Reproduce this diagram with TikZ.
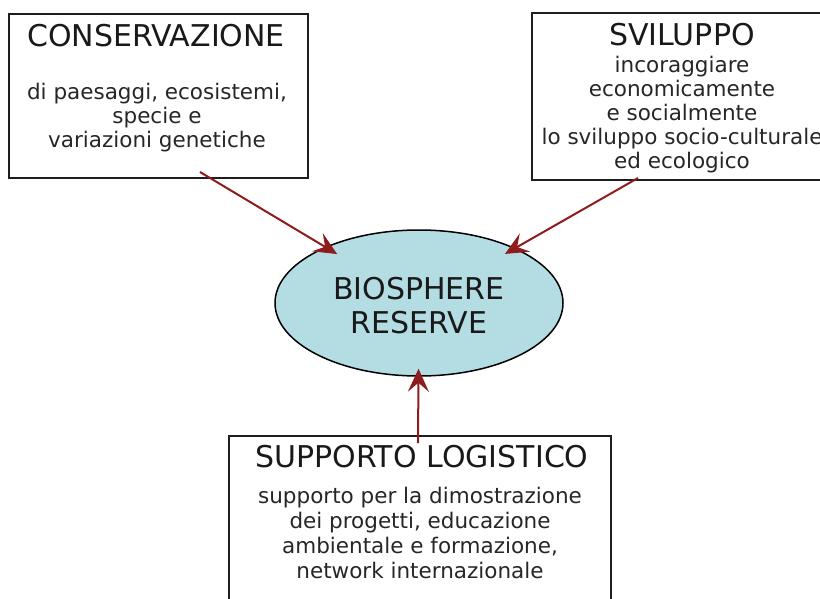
\documentclass[tikz,border=0pt]{standalone}
\usepackage{fontspec}
\setmainfont{DejaVu Sans}
\usetikzlibrary{arrows.meta,shapes.geometric}
\definecolor{arrowred}{HTML}{8E1C1C}
\definecolor{ellfill}{HTML}{B3DCE3}
\definecolor{boxline}{HTML}{1E1E1E}
\begin{document}
\begin{tikzpicture}[x=1pt,y=-1pt,
  box/.style={draw=boxline,line width=2pt,rectangle,inner sep=0pt,anchor=north west},
  title/.style={font=\fontsize{30}{34}\selectfont,inner sep=0pt,anchor=base,text=black!90},
  body/.style={font=\fontsize{21.5}{24}\selectfont,inner sep=0pt,anchor=base,align=center,text=black!85},
  link/.style={draw=arrowred,line width=2pt,-{Stealth[length=23pt,width=21pt,inset=9pt]}}]
\useasboundingbox (0,0) rectangle (820,598);
\clip (0,0) rectangle (820,598);
% boxes
\node[box,minimum width=299pt,minimum height=164pt] (box1) at (8,13) {};
\node[box,minimum width=303pt,minimum height=167pt] (box2) at (531,12) {};
\node[box,minimum width=382pt,minimum height=185pt] (box3) at (228,435) {};
% ellipse
\node[ellipse,draw=black,line width=1.5pt,fill=ellfill,minimum width=288pt,minimum height=146pt,inner sep=0pt] (ell) at (419,303) {};
\node[font=\fontsize{30}{34}\selectfont,align=center,inner sep=0pt,text=black!90] (elltext) at (419,306) {BIOSPHERE\\RESERVE};
% texts (base anchor = baseline of last line)
\node[title] (t1) at (156,46) {CONSERVAZIONE};
\node[body] (b1) at (157,147) {di paesaggi, ecosistemi,\\specie e\\variazioni genetiche};
\node[title] (t2) at (682,45) {SVILUPPO};
\node[body] (b2) at (682,168) {incoraggiare\\economicamente\\e socialmente\\lo sviluppo socio-culturale\\ed ecologico};
\node[title] (t3) at (422,467) {SUPPORTO LOGISTICO};
\node[body,font=\fontsize{21.5}{25}\selectfont] (b3) at (420,578) {supporto per la dimostrazione\\dei progetti, educazione\\ambientale e formazione,\\network internazionale};
% arrows
\coordinate (s1) at (200,172);
\coordinate (s2) at (638,178);
\coordinate (s3) at (418,443);
\draw[link,shorten >=-14pt] (s1) -- (ell);
\draw[link,shorten >=-12pt] (s2) -- (ell);
\draw[link,shorten >=-8pt] (s3) -- (ell);
\end{tikzpicture}
\end{document}
